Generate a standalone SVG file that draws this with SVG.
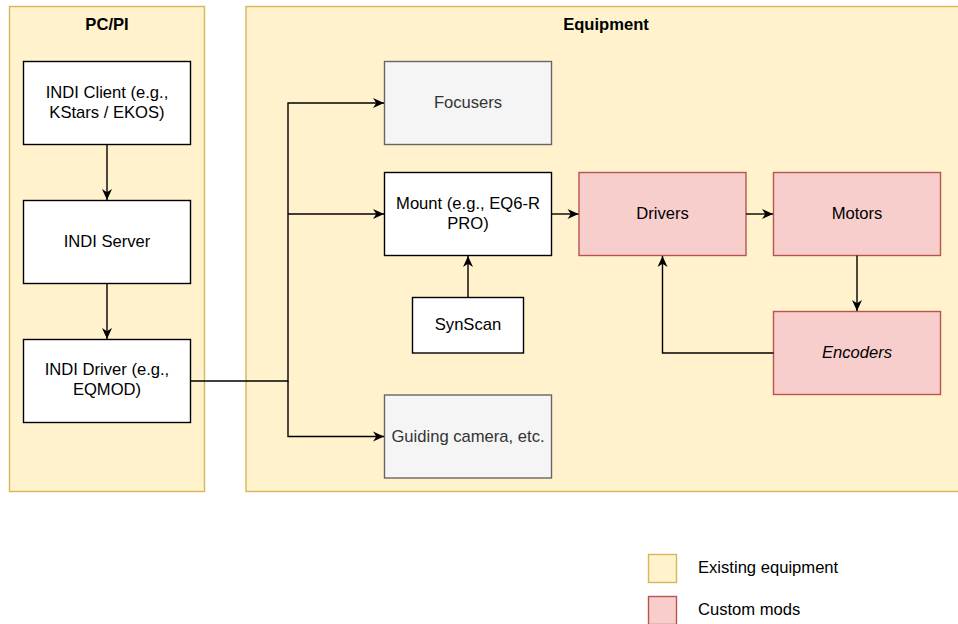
<svg xmlns="http://www.w3.org/2000/svg" width="958" height="624" viewBox="0 0 958 624">
<style>
.container{fill:#fff2cc;stroke:#d6b656;stroke-width:1.4}
.box{fill:#ffffff;stroke:#000000;stroke-width:1.4}
.gray{fill:#f5f5f5;stroke:#666666;stroke-width:1.4}
.red{fill:#f8cecc;stroke:#b85450;stroke-width:1.4}
text{font-family:"Liberation Sans",Arial,sans-serif;font-size:16.6px;text-anchor:middle;fill:#000}
.title{font-weight:bold}
.grayt{fill:#333333}
.leg{text-anchor:start;fill:#000}
.conn path{fill:none;stroke:#000;stroke-width:1.4}
</style>
<defs>
<marker id="arr" markerWidth="13" markerHeight="11" refX="12" refY="5.5" orient="auto" markerUnits="userSpaceOnUse">
<path d="M1,0.5 L12,5.5 L1,10.5 L4.3,5.5 Z" fill="#000"/>
</marker>
</defs>
<g id="pcpi">
<rect class="container" x="9.5" y="6.5" width="195" height="485"/>
<text class="title" x="107" y="29.5">PC/PI</text>
</g>
<g id="equipment">
<rect class="container" x="246" y="6.5" width="720" height="485"/>
<text class="title" x="606" y="29.5">Equipment</text>
</g>
<g id="indi-client">
<rect class="box" x="23.5" y="61.5" width="167" height="83"/>
<text x="107" y="98">INDI Client (e.g.,</text>
<text x="107" y="118">KStars / EKOS)</text>
</g>
<g id="indi-server">
<rect class="box" x="23.5" y="200.5" width="167" height="83"/>
<text x="107" y="247">INDI Server</text>
</g>
<g id="indi-driver">
<rect class="box" x="23.5" y="339.5" width="167" height="83"/>
<text x="107" y="375">INDI Driver (e.g.,</text>
<text x="107" y="395">EQMOD)</text>
</g>
<g id="focusers">
<rect class="gray" x="384.5" y="61.5" width="167" height="83"/>
<text class="grayt" x="468" y="107.5">Focusers</text>
</g>
<g id="mount">
<rect class="box" x="384.5" y="172.5" width="167" height="83"/>
<text x="468" y="208.5">Mount (e.g., EQ6-R</text>
<text x="468" y="229">PRO)</text>
</g>
<g id="synscan">
<rect class="box" x="412.5" y="297.5" width="111" height="55.5"/>
<text x="468" y="330">SynScan</text>
</g>
<g id="guiding">
<rect class="gray" x="384.5" y="395" width="167" height="83"/>
<text class="grayt" x="468" y="441.5">Guiding camera, etc.</text>
</g>
<g id="drivers">
<rect class="red" x="579" y="172.5" width="167" height="83"/>
<text x="662.5" y="219">Drivers</text>
</g>
<g id="motors">
<rect class="red" x="773.5" y="172.5" width="167" height="83"/>
<text x="857" y="219">Motors</text>
</g>
<g id="encoders">
<rect class="red" x="773.5" y="311.5" width="167" height="83"/>
<text x="857" y="358" font-style="italic">Encoders</text>
</g>
<g id="connectors" class="conn">
<path d="M107,144.5 V200" marker-end="url(#arr)"/>
<path d="M107,283.5 V339" marker-end="url(#arr)"/>
<path d="M190.5,381 H288 V103 H384" marker-end="url(#arr)"/>
<path d="M288,214 H384" marker-end="url(#arr)"/>
<path d="M288,381 V436.5 H384" marker-end="url(#arr)"/>
<path d="M551.5,214 H578.5" marker-end="url(#arr)"/>
<path d="M746,214 H773" marker-end="url(#arr)"/>
<path d="M857,255.5 V311" marker-end="url(#arr)"/>
<path d="M773.5,353 H662.5 V256" marker-end="url(#arr)"/>
<path d="M468,297.5 V256" marker-end="url(#arr)"/>
</g>
<g id="legend-existing">
<rect class="container" x="648.5" y="554.5" width="28" height="28"/>
<text class="leg" x="698" y="573">Existing equipment</text>
</g>
<g id="legend-custom">
<rect class="red" x="648.5" y="596.5" width="28" height="28"/>
<text class="leg" x="698" y="615">Custom mods</text>
</g>
</svg>
